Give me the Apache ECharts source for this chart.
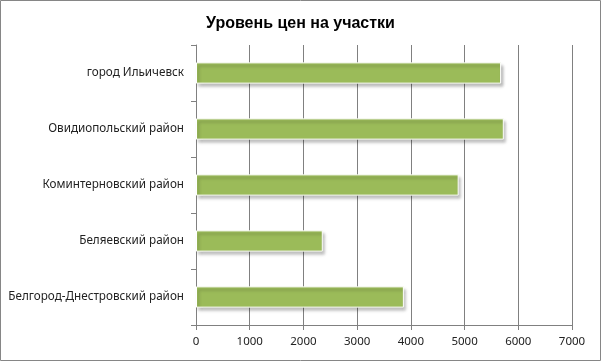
<!DOCTYPE html>
<html>
<head>
<meta charset="utf-8">
<script src="https://cdn.jsdelivr.net/npm/echarts@6/dist/echarts.min.js"></script>
<style>
html,body{margin:0;padding:0;background:#fff;}
#c{width:601px;height:361px;}
</style>
</head>
<body>
<div id="c"></div>
<script>
var title = 'Уровень цен на участки';
var categories = ['Белгород-Днестровский район', 'Беляевский район', 'Коминтерновский район', 'Овидиопольский район', 'город Ильичевск'];
var values = [3870, 2360, 4890, 5730, 5680];
var xTicks = [0, 1000, 2000, 3000, 4000, 5000, 6000, 7000];

var chart = echarts.init(document.getElementById('c'), null, {renderer: 'canvas'});
var font = '"Noto Sans", sans-serif';
chart.setOption({
  animation: false,
  backgroundColor: '#ffffff',
  title: {
    text: title,
    left: 'center',
    top: 11,
    textStyle: {fontFamily: 'Liberation Sans, Arial, sans-serif', fontSize: 16, fontWeight: 'bold', color: '#000'}
  },
  graphic: [{
    type: 'rect',
    shape: {x: 0.5, y: 0.5, width: 600, height: 360},
    style: {fill: 'none', stroke: '#868686', lineWidth: 1},
    silent: true
  }],
  grid: {left: 196, right: 29, top: 45, bottom: 36, containLabel: false},
  xAxis: {
    type: 'value',
    min: xTicks[0],
    max: xTicks[xTicks.length - 1],
    interval: 1000,
    axisLine: {show: true, lineStyle: {color: '#808080', width: 1}},
    axisTick: {show: true, length: 5, lineStyle: {color: '#808080'}},
    splitLine: {show: true, lineStyle: {color: '#808080', width: 1}},
    axisLabel: {fontFamily: font, fontSize: 11.5, color: '#222', margin: 11,
      formatter: function (v) { return String(v); }}
  },
  yAxis: {
    type: 'category',
    data: categories,
    axisLine: {show: true, lineStyle: {color: '#808080', width: 1}},
    axisTick: {show: true, length: 5, alignWithLabel: false, lineStyle: {color: '#808080'}},
    splitLine: {show: false},
    axisLabel: {fontFamily: font, fontSize: 11.7, color: '#222', margin: 12}
  },
  series: [{
    type: 'bar',
    data: values,
    barCategoryGap: '62%',
    itemStyle: {
      color: '#9BBB59',
      borderColor: '#ffffff',
      borderWidth: 1,
      shadowColor: 'rgba(0,0,0,0.3)',
      shadowBlur: 3,
      shadowOffsetX: 2,
      shadowOffsetY: 3
    }
  }]
});
</script>
</body>
</html>
